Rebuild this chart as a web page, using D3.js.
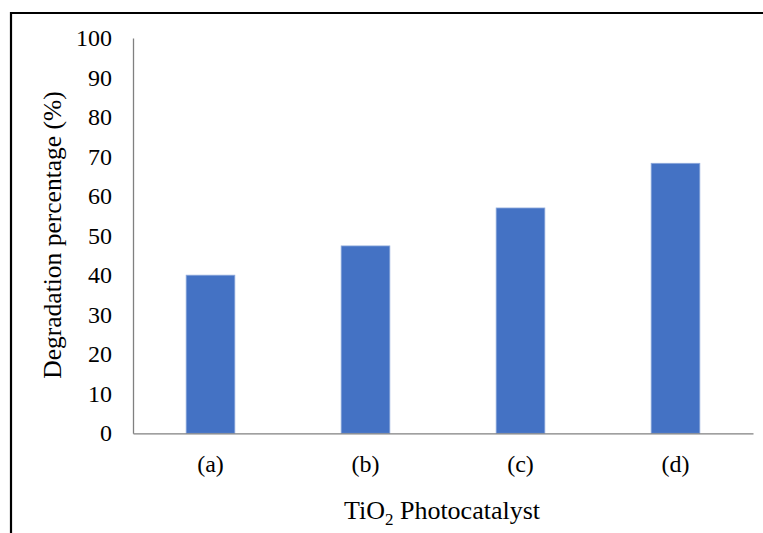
<!DOCTYPE html>
<html>
<head>
<meta charset="utf-8">
<script src="https://cdn.jsdelivr.net/npm/d3@7"></script>
<style>
  body { margin: 0; background: #fff; }
  text { font-family: "Liberation Serif", "Times New Roman", serif; fill: #000; }
</style>
</head>
<body>
<svg id="chart"></svg>
<script>
const categories = ["(a)", "(b)", "(c)", "(d)"];
const values = [40.0, 47.4, 57.0, 68.3];
const yTicks = [0, 10, 20, 30, 40, 50, 60, 70, 80, 90, 100];

const svgWidth = 763, svgHeight = 533;
const margin = {top: 38, right: 10, bottom: 100, left: 133},
    width = 753 - margin.left,
    height = 433.3 - margin.top;

const svg = d3.select('#chart')
    .attr("width", svgWidth)
    .attr("height", svgHeight);

// frame (left and top edges visible)
svg.append("line").attr("x1", 11).attr("x2", 11).attr("y1", 12).attr("y2", svgHeight)
  .attr("stroke", "#000").attr("stroke-width", 2.2);
svg.append("line").attr("x1", 10).attr("x2", svgWidth).attr("y1", 13).attr("y2", 13)
  .attr("stroke", "#000").attr("stroke-width", 2.2);

const chart = svg.append("g")
    .attr("transform", "translate(" + margin.left + "," + margin.top + ")");

const x = d3.scaleBand()
  .domain(categories)
  .range([0, width])
  .paddingInner(0.686)
  .paddingOuter(0.343);

const y = d3.scaleLinear()
  .domain([0, 100])
  .range([height, 0]);

// bars
chart.selectAll(".bar")
  .data(values)
  .enter()
  .append("rect")
    .attr("x", (d, i) => x(categories[i]))
    .attr("width", x.bandwidth())
    .attr("y", d => y(d))
    .attr("height", d => height - y(d))
    .style("fill", "#4472C4")
    .style("stroke", "#8faadc")
    .style("stroke-width", 0.8);

// y axis
const yAxis = chart.append("g")
  .call(d3.axisLeft(y).tickValues(yTicks).tickSize(0).tickPadding(21).tickFormat(d3.format("d")));
yAxis.select(".domain").attr("stroke", "#808080").attr("stroke-width", 1.3);
yAxis.selectAll("text").style("font-size", "24px").attr("font-family", null).attr("dy", "0.32em");

// x axis
const xAxis = chart.append("g")
  .attr("transform", "translate(0," + height + ")")
  .call(d3.axisBottom(x).tickSize(0).tickPadding(22));
xAxis.select(".domain").attr("stroke", "#808080").attr("stroke-width", 1.3);
xAxis.selectAll("text").style("font-size", "24px").attr("font-family", null);

// axis titles
chart.append("text")
  .attr("transform", "rotate(-90)")
  .attr("x", -(235 - margin.top))
  .attr("y", 61 - margin.left)
  .style("text-anchor", "middle")
  .style("font-size", "25.5px")
  .text("Degradation percentage (%)");

const xt = chart.append("text")
  .attr("x", 442 - margin.left)
  .attr("y", 519 - margin.top)
  .style("text-anchor", "middle")
  .style("font-size", "26px");
xt.append("tspan").text("TiO");
xt.append("tspan").attr("dy", 6).style("font-size", "17px").text("2");
xt.append("tspan").attr("dy", -6).text(" Photocatalyst");
</script>
</body>
</html>
